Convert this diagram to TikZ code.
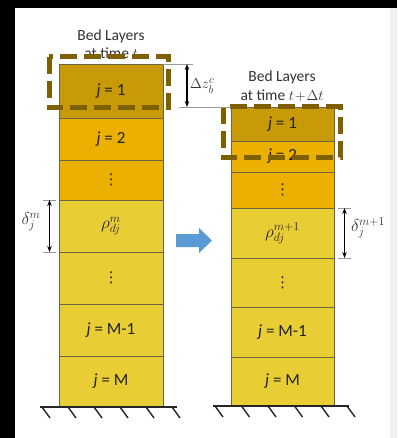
\documentclass[tikz,border=0pt]{standalone}
\usepackage{fontspec}
\setmainfont{Carlito}
\newfontfamily\symfont{DejaVu Sans}
\usetikzlibrary{arrows.meta}
\definecolor{topgold}{HTML}{C99A08}
\definecolor{midgold}{HTML}{EBB000}
\definecolor{lowgold}{HTML}{E9CD35}
\definecolor{layerline}{HTML}{6E6640}
\definecolor{dashbrown}{HTML}{7F6000}
\definecolor{flowblue}{HTML}{5B9BD5}
\definecolor{labeltext}{HTML}{222222}
\definecolor{tickgray}{HTML}{9A9A9A}
\newcommand{\vdotsglyph}{{\symfont\fontsize{15}{15}\selectfont ⋮}}
\begin{document}
\begin{tikzpicture}[x=1pt,y=-1pt,
  layer/.style={draw=layerline, line width=0.9pt, inner sep=0pt, outer sep=0pt,
    font=\fontsize{17}{19}\selectfont, text=labeltext},
  leftcol/.style={layer, minimum width=104pt},
  rightcol/.style={layer, minimum width=103pt},
  toplayer/.style={fill=topgold},
  midlayer/.style={fill=midgold},
  lowlayer/.style={fill=lowgold},
  dashbox/.style={draw=dashbrown, line width=5pt, dash pattern=on 17pt off 7pt},
  tick/.style={draw=tickgray, line width=0.9pt},
  dimarrow/.style={draw=black, line width=1.3pt,
    {Stealth[length=6pt,width=4.5pt]}-{Stealth[length=6pt,width=4.5pt]}},
  ground/.style={draw=black!85, line width=1.6pt},
  hatch/.style={draw=black!85, line width=1.4pt},
  title/.style={align=center, font=\fontsize{15.5}{18.5}\selectfont, text=black!80},
  mathlabel/.style={text=black!80, font=\fontsize{17}{19}\selectfont, inner sep=0pt}
]
\useasboundingbox (0,0) rectangle (397,438);
% frame
\fill[black] (0,0) rectangle (397,438);
\fill[white] (15,8) rectangle (390,438);
\fill[black!6] (390,8) rectangle (397,438);

% titles
\node[title] (titleL) at (111,44) {Bed Layers\\at time $t$};
\node[title] (titleR) at (282,86) {Bed Layers\\at time $t\!+\!\Delta t$};

% left column: bed layers at time t
\node[leftcol, toplayer, minimum height=54pt] (a1) at (111,91) {\textit{j} = 1};
\node[leftcol, midlayer, minimum height=42pt] (a2) at (111,139) {\textit{j} = 2};
\node[leftcol, midlayer, minimum height=40pt] (a3) at (111,180) {\vdotsglyph};
\node[leftcol, lowlayer, minimum height=52pt] (a4) at (111,226) {$\rho^{m}_{dj}$};
\node[leftcol, lowlayer, minimum height=52pt] (a5) at (111,278) {\vdotsglyph};
\node[leftcol, lowlayer, minimum height=52pt] (a6) at (111,330) {\textit{j} = M-1};
\node[leftcol, lowlayer, minimum height=51pt] (a7) at (111,381.5) {\textit{j} = M};

% right column: bed layers at time t + dt
\node[rightcol, toplayer, minimum height=34pt] (b1) at (282.5,124) {\textit{j} = 1};
\node[rightcol, midlayer, minimum height=31pt] (b2) at (282.5,156.5) {\textit{j} = 2};
\node[rightcol, midlayer, minimum height=36pt] (b3) at (282.5,190) {\vdotsglyph};
\node[rightcol, lowlayer, minimum height=50pt] (b4) at (282.5,233) {$\rho^{m+1}_{dj}$};
\node[rightcol, lowlayer, minimum height=49pt] (b5) at (282.5,282.5) {\vdotsglyph};
\node[rightcol, lowlayer, minimum height=50pt] (b6) at (282.5,332) {\textit{j} = M-1};
\node[rightcol, lowlayer, minimum height=49pt] (b7) at (282.5,381.5) {\textit{j} = M};

% dashed outlines of the active top layer
\draw[dashbox] (49,57) rectangle (168,108);
\draw[dashbox] (223,107) rectangle (340,158);

% erosion depth between the two tops
\coordinate (dzt) at (187,64);
\coordinate (dzb) at (187,107);
\coordinate (dztr) at (193,64);
\coordinate (dzbl) at (179,107);
\draw[tick] (a1.north east) -- (dztr);
\draw[tick] (dzbl) -- (b1.north west);
\draw[dimarrow] (dzt) -- (dzb);
\node[mathlabel, font=\fontsize{15}{17}\selectfont, anchor=west] (dzlab) at (190,86)
  {$\Delta z^{c}_{\raisebox{-1.5pt}{$\scriptstyle b$}}$};

% layer thickness, left
\coordinate (dlt1) at (43,200); \coordinate (dlt2) at (56,200);
\coordinate (dlb1) at (43,252); \coordinate (dlb2) at (56,252);
\coordinate (dlt) at (49.5,200); \coordinate (dlb) at (49.5,252);
\draw[tick] (dlt1) -- (dlt2);
\draw[tick] (dlb1) -- (dlb2);
\draw[dimarrow] (dlt) -- (dlb);
\node[mathlabel] (dllab) at (31,222) {$\delta_j^{m}$};

% layer thickness, right
\coordinate (drt1) at (338,208); \coordinate (drt2) at (351,208);
\coordinate (drb1) at (338,258); \coordinate (drb2) at (351,258);
\coordinate (drt) at (344.5,208); \coordinate (drb) at (344.5,258);
\draw[tick] (drt1) -- (drt2);
\draw[tick] (drb1) -- (drb2);
\draw[dimarrow] (drt) -- (drb);
\node[mathlabel] (drlab) at (368,228) {$\delta_j^{m+1}$};

% time step arrow
\fill[flowblue] (176,234) -- (199,234) -- (199,228) -- (212,240.5)
  -- (199,253) -- (199,247) -- (176,247) -- cycle;

% fixed bottom
\draw[ground] (40,407) -- (177,407);
\foreach \x in {42,68,94,120,146,172}
  \draw[hatch] (\x,407) -- (\x+8,418);
\draw[ground] (213,406) -- (349,406);
\foreach \x in {215,241.5,268,294.5,321,347}
  \draw[hatch] (\x,406) -- (\x+8,417);
\end{tikzpicture}
\end{document}
